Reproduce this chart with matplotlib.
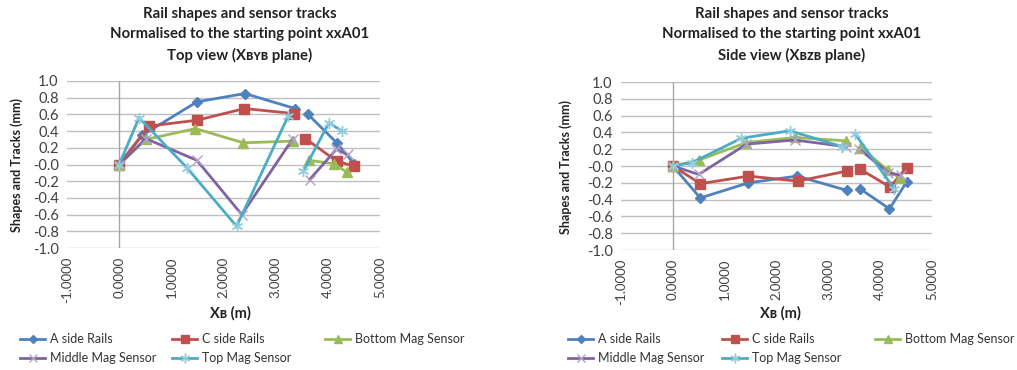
import numpy as np
import matplotlib
matplotlib.use("Agg")
import matplotlib.pyplot as plt
from matplotlib.lines import Line2D

plt.rcParams['font.family'] = ['Lato', 'Noto Sans', 'DejaVu Sans']

nan = np.nan

series_names = ["A side Rails", "C side Rails", "Bottom Mag Sensor",
                "Middle Mag Sensor", "Top Mag Sensor"]

# top view (XB-YB plane), gap = break between the two rail sections
top_x = [
    [0, 0.44, 1.49, 2.41, 3.37, nan, 3.62, 4.17, 4.50],
    [0, 0.57, 1.49, 2.40, 3.35, nan, 3.57, 4.17, 4.50],
    [0, 0.51, 1.46, 2.38, 3.33, nan, 3.64, 4.11, 4.36],
    [0, 0.51, 1.49, 2.35, 3.33, nan, 3.65, 4.16, 4.38],
    [0, 0.38, 1.30, 2.25, 3.24, nan, 3.53, 4.02, 4.27],
]
top_y = [
    [0, 0.35, 0.75, 0.85, 0.67, nan, 0.60, 0.26, 0.01],
    [0, 0.46, 0.53, 0.67, 0.61, nan, 0.31, 0.04, -0.02],
    [0, 0.30, 0.43, 0.26, 0.28, nan, 0.05, 0.01, -0.09],
    [0, 0.31, 0.05, -0.60, 0.31, nan, -0.18, 0.18, 0.12],
    [0, 0.56, -0.04, -0.74, 0.58, nan, -0.08, 0.50, 0.40],
]

# side view (XB-ZB plane)
side_x = [
    [0, 0.53, 1.46, 2.40, 3.36, nan, 3.61, 4.18, 4.51],
    [0, 0.53, 1.46, 2.41, 3.36, nan, 3.62, 4.19, 4.51],
    [0, 0.50, 1.42, 2.36, 3.34, nan, 3.62, 4.15, 4.38],
    [0, 0.50, 1.42, 2.35, 3.34, nan, 3.60, 4.16, 4.41],
    [0, 0.37, 1.32, 2.26, 3.27, nan, 3.52, 4.27],
]
side_y = [
    [0, -0.38, -0.20, -0.12, -0.29, nan, -0.27, -0.51, -0.19],
    [0, -0.21, -0.12, -0.18, -0.06, nan, -0.04, -0.25, -0.02],
    [0, 0.07, 0.28, 0.34, 0.30, nan, 0.22, -0.05, -0.14],
    [0, -0.10, 0.26, 0.31, 0.23, nan, 0.20, -0.08, -0.11],
    [0, 0.04, 0.33, 0.42, 0.23, nan, 0.38, -0.27],
]

colors = ["#4F81BD", "#C0504D", "#9BBB59", "#8064A2", "#4BACC6"]
edge_colors = ["#4F81BD", "#C0504D", "#9BBB59", "#B3A2C7", "#93CDDD"]
markers = ["D", "s", "^", "x", (6, 2, 0)]
msizes = [5, 7, 7, 7, 8]

fig = plt.figure(figsize=(10.17, 3.70), dpi=100)

def draw(ax, xs, ys):
    for i in range(5):
        ax.plot(xs[i], ys[i], color=colors[i], lw=2.0, marker=markers[i],
                ms=msizes[i], mfc=colors[i], mec=edge_colors[i], mew=1.0,
                zorder=3 + i)
    ax.set_xlim(-1, 5)
    ax.set_ylim(-1, 1)
    ax.set_xticks(np.arange(-1, 6, 1))
    ax.set_xticklabels(["%.4f" % v for v in np.arange(-1, 6, 1)],
                       rotation=90, fontsize=9.5, color="#404040")
    ax.set_yticks(np.arange(-1, 1.01, 0.2))
    ax.set_yticklabels(["%.1f" % v for v in np.arange(-1, 1.01, 0.2)],
                       fontsize=10.5, color="#404040")
    ax.tick_params(length=0, pad=6)
    for s in ax.spines.values():
        s.set_visible(False)
    ax.grid(axis="y", color="#BFBFBF", lw=1.0)
    ax.set_axisbelow(True)
    ax.axvline(0, color="#A6A6A6", lw=1.0, zorder=1)

ax1 = fig.add_axes([0.0659, 0.3297, 0.3078, 0.4514])
draw(ax1, top_x, top_y)
ax2 = fig.add_axes([0.6106, 0.3243, 0.3058, 0.4540])
draw(ax2, side_x, side_y)

title_kw = dict(ha="center", va="center", fontsize=10.7, fontweight="bold",
                color="#222222")
for cx, view in [(240, "Top view (Xʙʏʙ plane)"), (792, "Side view (Xʙᴢʙ plane)")]:
    fig.text(cx / 1017, 1 - 14 / 370, "Rail shapes and sensor tracks", **title_kw)
    fig.text(cx / 1017, 1 - 34 / 370, "Normalised to the starting point xxA01", **title_kw)
    fig.text(cx / 1017, 1 - 55 / 370, view, **title_kw)

lab_kw = dict(fontsize=9, fontweight="bold", color="#222222")
fig.text(17 / 1017, 1 - 165 / 370, "Shapes and Tracks (mm)", rotation=90,
         ha="center", va="center", **lab_kw)
fig.text(566 / 1017, 1 - 167 / 370, "Shapes and Tracks (mm)", rotation=90,
         ha="center", va="center", **lab_kw)
fig.text(230 / 1017, 1 - 313 / 370, "Xʙ (m)", ha="center", va="center",
         fontsize=10.5, fontweight="bold", color="#222222")
fig.text(780 / 1017, 1 - 313 / 370, "Xʙ (m)", ha="center", va="center",
         fontsize=10.5, fontweight="bold", color="#222222")

# legend columns, Excel-style fixed widths
handles = [Line2D([], [], color=colors[i], lw=2.0, marker=markers[i],
                  ms=msizes[i] - 1, mfc=colors[i], mec=edge_colors[i])
           for i in range(5)]
columns = [[0, 3], [1, 4], [2]]
for x0, offsets in [(20, (0, 152, 305)), (568, (0, 154, 307))]:
    for col, off in zip(columns, offsets):
        leg = fig.legend([handles[k] for k in col], [series_names[k] for k in col],
                         loc="upper left",
                         bbox_to_anchor=((x0 + off) / 1017, 1 - 333 / 370),
                         frameon=False, fontsize=9, handlelength=2.0,
                         handletextpad=0.4, labelspacing=0.6,
                         borderpad=0, borderaxespad=0)
        for t in leg.get_texts():
            t.set_color("#333333")

fig.savefig("out.png", dpi=100)
